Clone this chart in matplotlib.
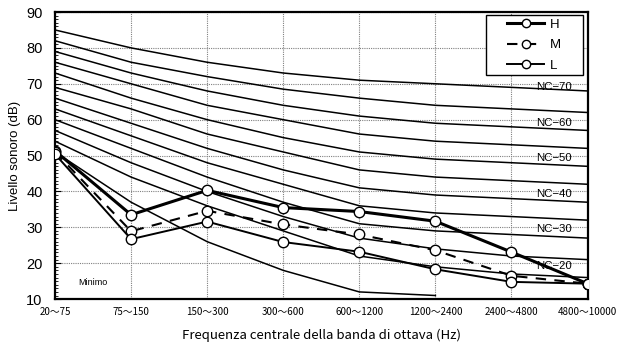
import numpy as np
import matplotlib
matplotlib.use("Agg")
import matplotlib.pyplot as plt
from matplotlib.ticker import MultipleLocator
from matplotlib.patches import Rectangle

# ── Data ──────────────────────────────────────────────────────────────────────
bands = ["20～75", "75～150", "150～300", "300～600",
         "600～1200", "1200～2400", "2400～4800", "4800～10000"]

nc_70 = [85, 80, 76, 73, 71, 70, 69, 68]
nc_65 = [82, 76, 72, 68.5, 66, 64, 63, 62]
nc_60 = [79, 73, 68, 64, 61, 59, 58, 57]
nc_55 = [76, 70, 64, 60, 56, 54, 53, 52]
nc_50 = [73, 66, 60, 55, 51, 49, 48, 47]
nc_45 = [69, 63, 56, 51, 46, 44, 43, 42]
nc_40 = [66, 59, 52, 46, 41, 39, 38, 37]
nc_35 = [63, 55.5, 48, 42, 36, 34, 33, 32]
nc_30 = [60, 52, 44, 37, 31, 29, 28, 27]
nc_25 = [57, 48, 40, 33, 27, 24, 22, 21]
nc_20 = [54, 44, 36, 29, 22, 19, 17, 16]
nc_15 = [51, 37, 26, 18, 12, 11]

level_h = [51.3, 33.5, 40.3, 35.5, 34.4, 31.7, 23.1, 14.3]
level_m = [51.0, 28.9, 34.6, 30.8, 28.0, 23.6, 16.5, 14.3]
level_l = [50.4, 26.7, 31.6, 25.9, 23.2, 18.3, 14.8, 14.3]

nc_labels = ["NC−70", "NC−60", "NC−50", "NC−40", "NC−30", "NC−20"]
nc_label_y = [69, 59, 49.3, 39.2, 29.4, 19.2]

jp = ["Noto Sans CJK JP", "DejaVu Sans"]

# ── Plot ──────────────────────────────────────────────────────────────────────
fig = plt.figure(figsize=(6.28, 3.49), dpi=100)
ax = fig.add_axes([0.0876, 0.143, 0.848, 0.8226])

x = np.arange(len(bands))
for curve in [nc_70, nc_65, nc_60, nc_55, nc_50, nc_45,
              nc_40, nc_35, nc_30, nc_25, nc_20, nc_15]:
    ax.plot(x[:len(curve)], curve, color="black", lw=1.1, zorder=2)

mk = dict(marker="o", markersize=7.5, markerfacecolor="white",
          markeredgecolor="black", markeredgewidth=1.0, color="black")
ax.plot(x, level_h, lw=2.2, label="H", zorder=4, **mk)
ax.plot(x, level_m, lw=1.5, ls=(0, (5, 4)), label="M", zorder=4, **mk)
ax.plot(x, level_l, lw=1.4, label="L", zorder=4, **mk)

for txt, yv in zip(nc_labels, nc_label_y):
    ax.text(6.56, yv, txt, fontsize=8.2, ha="center", va="center",
            family="Liberation Sans", zorder=3)

ax.text(0.3, 14.5, "Minimo", fontsize=6.5, ha="left", va="center",
        family="Liberation Sans")

ax.set_xlim(0, 7)
ax.set_ylim(10, 90)
ax.set_xticks(x)
ax.set_xticklabels(bands, fontsize=7, family=jp)
ax.yaxis.set_major_locator(MultipleLocator(10))
ax.yaxis.set_minor_locator(MultipleLocator(1))
for lab in ax.get_yticklabels():
    lab.set_family("Liberation Sans")
    lab.set_fontsize(10.5)
ax.tick_params(axis="y", which="major", direction="in", length=4, pad=9)
ax.tick_params(axis="y", which="minor", direction="in", length=2.5)
ax.tick_params(axis="x", length=0, pad=6)

ax.grid(True, color="gray", ls=(0, (1, 1)), lw=0.8)
for s in ax.spines.values():
    s.set_linewidth(1.6)

ax.set_ylabel("Livello sonoro (dB)", fontsize=9.5, family="Liberation Sans", labelpad=4)
ax.set_xlabel("Frequenza centrale della banda di ottava (Hz)", fontsize=9.5,
              family=jp, labelpad=8)

# legend: frame drawn separately so the box can be wider than its content
ax.add_patch(Rectangle((0.8086, 0.780), 0.182, 0.2095, transform=ax.transAxes,
                       facecolor="white", edgecolor="black", lw=1.0, zorder=5))
leg = ax.legend(loc="center", bbox_to_anchor=(0.8996, 0.885), frameon=False,
                handlelength=2.8, handletextpad=0.4, labelspacing=0.62,
                markerscale=0.8, borderpad=0.2,
                prop={"family": "Liberation Sans", "size": 9.5})
leg.set_zorder(6)

fig.savefig("out.png", dpi=100)
